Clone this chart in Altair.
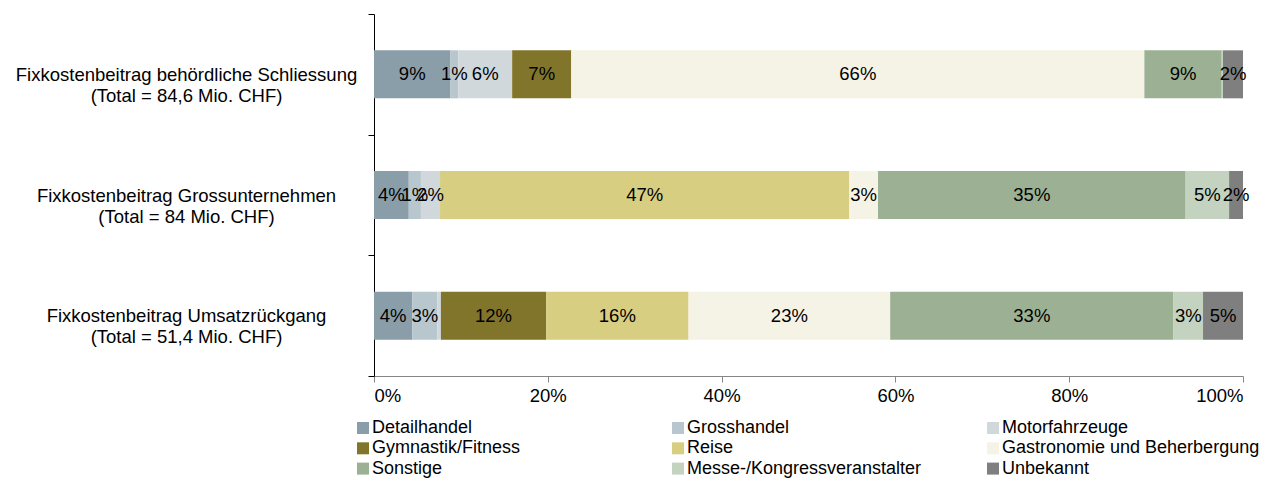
import altair as alt
import pandas as pd

categories = [
    "Fixkostenbeitrag behördliche Schliessung|(Total = 84,6 Mio. CHF)",
    "Fixkostenbeitrag Grossunternehmen|(Total = 84 Mio. CHF)",
    "Fixkostenbeitrag Umsatzrückgang|(Total = 51,4 Mio. CHF)",
]
sectors = [
    "Detailhandel", "Grosshandel", "Motorfahrzeuge",
    "Gymnastik/Fitness", "Reise", "Gastronomie und Beherbergung",
    "Sonstige", "Messe-/Kongressveranstalter", "Unbekannt",
]
colors = ["#8a9ea9", "#b8c6cd", "#d0d8dc", "#80752b", "#d8ce82",
          "#f5f3e5", "#9cb093", "#c4d3bf", "#7f7f7f"]

vals_schliessung = [8.8, 0.9, 6.2, 6.8, 0.0, 65.95, 8.9, 0.15, 2.3]
vals_gross = [4.0, 1.4, 2.2, 0.0, 47.1, 3.3, 35.4, 5.0, 1.6]
vals_umsatz = [4.4, 2.9, 0.4, 12.1, 16.4, 23.2, 32.6, 3.4, 4.6]

rows = []
for cat, vals in zip(categories, [vals_schliessung, vals_gross, vals_umsatz]):
    for i, (s, v) in enumerate(zip(sectors, vals)):
        rows.append({"cat": cat, "sector": s, "idx": i, "value": v / 100})
df = pd.DataFrame(rows)

# legend is filled column by column: reorder so it reads row by row
legend_order = [0, 3, 6, 1, 4, 7, 2, 5, 8]
leg_domain = [sectors[i] for i in legend_order]
leg_range = [colors[i] for i in legend_order]

FONT = "Liberation Sans"
FS = 18.5

y_enc = alt.Y(
    "cat:N", sort=categories, title=None,
    scale=alt.Scale(paddingInner=0, paddingOuter=0),
    axis=alt.Axis(
        labelExpr="split(datum.label, '|')",
        labelAlign="center", labelPadding=182, labelLimit=500,
        labelFont=FONT, labelFontSize=FS, labelColor="#000000",
        labelLineHeight=21, tickBand="extent", tickSize=6,
        tickColor="#000000", domainColor="#000000", ticks=True,
    ),
)

base = alt.Chart(df).transform_stack(
    stack="value", groupby=["cat"], as_=["x0", "x1"],
    sort=[alt.SortField("idx", order="ascending")],
).transform_calculate(
    mid="(datum.x0 + datum.x1) / 2",
    lbl="format(datum.value, '.0%')",
)

bars = base.mark_bar(strokeWidth=0, size=48).encode(
    x=alt.X("x0:Q", title=None, scale=alt.Scale(domain=[0, 1], nice=False),
            axis=alt.Axis(format=".0%", values=[0, 0.2, 0.4, 0.6, 0.8, 1.0],
                          grid=False, labelFont=FONT, labelFontSize=FS,
                          labelColor="#000000", tickSize=6, tickColor="#868686",
                          domainColor="#868686", labelPadding=4)),
    x2="x1:Q",
    y=y_enc,
    color=alt.Color(
        "sector:N", sort=leg_domain,
        scale=alt.Scale(domain=leg_domain, range=leg_range),
        legend=alt.Legend(
            title=None, orient="none", legendX=-20, legendY=405,
            columns=3, gridAlign="all", columnPadding=39, rowPadding=2.3,
            symbolType="square", symbolSize=144, symbolStrokeWidth=0,
            labelFont=FONT, labelFontSize=18, labelColor="#000000",
            labelLimit=500, labelOffset=0, padding=0,
        ),
    ),
)

labels = base.transform_filter("datum.value >= 0.005").mark_text(
    font=FONT, fontSize=FS, color="#000000", baseline="middle", align="center"
).encode(
    x="mid:Q",
    y=alt.Y("cat:N", sort=categories),
    text="lbl:N",
)

chart = alt.layer(bars, labels).properties(
    width=869, height=362,
    autosize=alt.AutoSizeParams(type="none"),
    padding={"left": 366, "top": 6, "right": 23, "bottom": 105},
).configure_view(stroke=None)

chart.save("out.html", embed_options={"renderer": "svg", "actions": False})
